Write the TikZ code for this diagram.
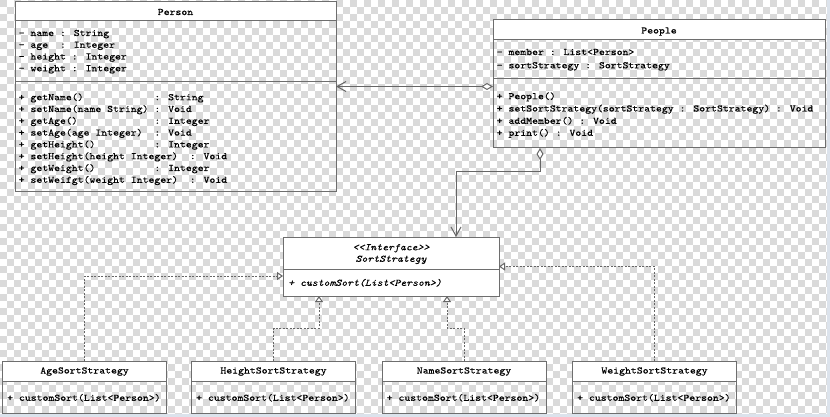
\documentclass[tikz,border=0pt]{standalone}
\usepackage{fontspec}
\newfontfamily\umlfont{lmmono10-regular.otf}[ItalicFont=lmmono10-italic.otf,
  FakeStretch=1.141, FakeBold=0.25, Ligatures=TeXOff]
\usetikzlibrary{arrows.meta}
\definecolor{checkgray}{HTML}{DADADA}
\definecolor{edgegray}{HTML}{6E6E6E}
\definecolor{linkgray}{HTML}{666666}
\definecolor{framebar}{HTML}{DCE3EC}

\begin{document}
\begin{tikzpicture}[x=1pt,y=-1pt,
  boxpart/.style={draw=edgegray, line width=1pt, inner sep=0pt, outer sep=0pt, rectangle},
  headpart/.style={boxpart, fill=white},
  sepline/.style={draw=edgegray, line width=1pt},
  umltext/.style={font=\umlfont\fontsize{9.85}{12}\selectfont, inner sep=0pt, text=black},
  row/.style={umltext, anchor=base west},
  title/.style={umltext, anchor=base},
  assoc/.style={draw=linkgray, line width=1pt,
    {Diamond[fill=white, length=12pt, width=7pt]}-{Straight Barb[length=9pt, width=10pt]}},
  realize/.style={draw=linkgray, line width=1pt, dash pattern=on 2pt off 1.5pt,
    -{Triangle[fill=white, length=6pt, width=8pt]}},
]
\useasboundingbox (0,0) rectangle (830,417);

% transparent-canvas checkerboard
\fill[white] (0,0) rectangle (830,417);
\foreach \i in {0,...,118}{
  \pgfmathtruncatemacro{\off}{mod(\i,2)*7}
  \foreach \j in {0,14,...,406}{
    \fill[checkgray] ({7*\i},{\j+\off}) rectangle ++(7,7);
  }
}
% window frame along the lower and right edges
\fill[framebar] (0,413.5) rectangle (830,417);
\fill[framebar] (827,0) rectangle (830,417);

% ---------- Person ----------
\node[headpart, minimum width=321pt, minimum height=19pt] (personhead) at (175.5,11.5) {};
\node[boxpart, minimum width=321pt, minimum height=170pt] (personbody) at (175.5,106) {};
\draw[sepline] ([yshift=-61pt]personbody.north west) -- ([yshift=-61pt]personbody.north east);
\node[title] (tperson) at (175.5,15) {Person};
\node[row] (pa1) at (18.5,36)    {- name : String};
\node[row] (pa2) at (18.5,47.75) {- age~~: Integer};
\node[row] (pa3) at (18.5,59.5)  {- height : Integer};
\node[row] (pa4) at (18.5,71.25) {- weight : Integer};
\node[row] (pm1) at (18.5,100.2) {+ getName()~~~~~~~~~~~~: String};
\node[row] (pm2) at (18.5,112)   {+ setName(name String) : Void};
\node[row] (pm3) at (18.5,123.8) {+ getAge()~~~~~~~~~~~~~: Integer};
\node[row] (pm4) at (18.5,135.6) {+ setAge(age Integer)~~: Void};
\node[row] (pm5) at (18.5,147.4) {+ getHeight()~~~~~~~~~~: Integer};
\node[row] (pm6) at (18.5,159.2) {+ setHeight(height Integer)~~: Void};
\node[row] (pm7) at (18.5,171)   {+ getWeight()~~~~~~~~~~: Integer};
\node[row] (pm8) at (18.5,182.8) {+ setWeifgt(weight Integer)~~: Void};

% ---------- People ----------
\node[headpart, minimum width=332pt, minimum height=20pt] (peoplehead) at (659,30) {};
\node[boxpart, minimum width=332pt, minimum height=108pt] (peoplebody) at (659,94) {};
\draw[sepline] ([yshift=-39pt]peoplebody.north west) -- ([yshift=-39pt]peoplebody.north east);
\node[title] (tpeople) at (659,33.5) {People};
\node[row] (qa1) at (496.5,55)    {- member : List<Person>};
\node[row] (qa2) at (496.5,68.3)  {- sortStrategy : SortStrategy};
\node[row] (qm1) at (496.5,99.2)  {+ People()};
\node[row] (qm2) at (496.5,111.5) {+ setSortStrategy(sortStrategy : SortStrategy) : Void};
\node[row] (qm3) at (496.5,123.8) {+ addMember() : Void};
\node[row] (qm4) at (496.5,135.8) {+ print() : Void};

% ---------- SortStrategy interface ----------
\node[headpart, minimum width=216pt, minimum height=32pt] (ifacehead) at (391,253) {};
\node[headpart, minimum width=216pt, minimum height=27pt] (ifacebody) at (391,282.5) {};
\node[title, font=\umlfont\itshape\fontsize{9.85}{12}\selectfont] (tstereo) at (391,250.2) {<<Interface>>};
\node[title, font=\umlfont\itshape\fontsize{9.85}{12}\selectfont] (tiface) at (391,261.8) {SortStrategy};
\node[row, font=\umlfont\itshape\fontsize{9.85}{12}\selectfont] (im1) at (288,285.8) {+ customSort(List<Person>)};

% ---------- concrete strategies ----------
\foreach \nm/\cx/\lbl in {age/84.5/AgeSortStrategy, height/273.5/HeightSortStrategy,
                          name/464/NameSortStrategy, weight/654.5/WeightSortStrategy}{
  \node[headpart, minimum width=164pt, minimum height=20pt] (\nm head) at (\cx,371) {};
  \node[boxpart, minimum width=164pt, minimum height=32pt] (\nm body) at (\cx,397) {};
  \node[title] (t\nm) at (\cx,373.5) {\lbl};
  \node[row] (m\nm) at ({\cx-77.5},400.8) {+ customSort(List<Person>)};
}

% ---------- relations ----------
\coordinate (agg1) at ([yshift=7.5pt]peoplebody.west);
\draw[assoc] (agg1) -- (agg1 -| personbody.east);

\coordinate (agg2) at ([xshift=-119pt]peoplebody.south);
\coordinate (itop) at ([xshift=65pt]ifacehead.north);
\draw[assoc] (agg2) -- ++(0,23) -| (itop);

\coordinate (ileft)  at ([yshift=6.5pt]ifacebody.west);
\coordinate (iright) at ([yshift=-13.5pt]ifacehead.east);
\coordinate (ib1) at ([xshift=-72pt]ifacebody.south);
\coordinate (ib2) at ([xshift=56pt]ifacebody.south);
\draw[realize] (agehead.north) |- (ileft);
\draw[realize] (heighthead.north) -- ++(0,-33) -| (ib1);
\draw[realize] (namehead.north) -- ++(0,-33) -| (ib2);
\draw[realize] (weighthead.north) |- (iright);
\end{tikzpicture}
\end{document}
